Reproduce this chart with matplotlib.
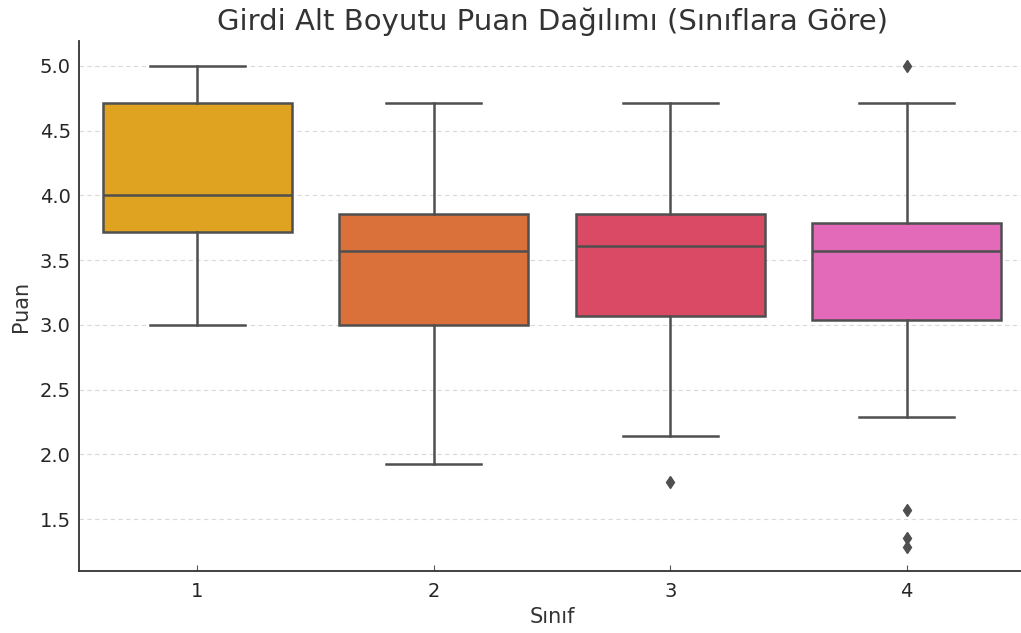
import matplotlib
matplotlib.use("Agg")
import matplotlib.pyplot as plt

plt.rcParams['font.family'] = ['DejaVu Sans']

categories = ["1", "2", "3", "4"]
q1 = [3.714, 3.000, 3.071, 3.036]
medians = [4.000, 3.571, 3.607, 3.571]
q3 = [4.714, 3.857, 3.857, 3.786]
whislo = [3.000, 1.929, 2.143, 2.286]
whishi = [5.000, 4.714, 4.714, 4.714]
fliers = [[], [], [1.786], [5.000, 1.571, 1.357, 1.286]]
colors = ["#DFA321", "#DA703A", "#DB4A64", "#E36AB9"]

title = "Girdi Alt Boyutu Puan Dağılımı (Sınıflara Göre)"
xlabel = "Sınıf"
ylabel = "Puan"

fig = plt.figure(figsize=(10.21, 6.33), dpi=100)
ax = fig.add_axes([0.0774, 0.098, 1.0039 - 0.0774, 0.935 - 0.098])

stats = []
for i, c in enumerate(categories):
    stats.append(dict(label=c, q1=q1[i], med=medians[i], q3=q3[i],
                      whislo=whislo[i], whishi=whishi[i], fliers=fliers[i]))

lc = "#4f4f4f"
lw = 1.8
bp = ax.bxp(stats, positions=range(len(categories)), widths=0.8,
            patch_artist=True, showfliers=True,
            boxprops=dict(edgecolor=lc, linewidth=lw),
            medianprops=dict(color=lc, linewidth=lw),
            whiskerprops=dict(color=lc, linewidth=lw),
            capprops=dict(color=lc, linewidth=lw),
            flierprops=dict(marker='d', markerfacecolor=lc, markeredgecolor=lc,
                            markersize=6.5, linestyle='none'),
            capwidths=0.4)
for patch, col in zip(bp['boxes'], colors):
    patch.set_facecolor(col)

ax.set_xlim(-0.5, 3.5)
ax.set_ylim(1.10, 5.19)
ax.set_yticks([1.5, 2.0, 2.5, 3.0, 3.5, 4.0, 4.5, 5.0])
ax.set_xticks(range(len(categories)))
ax.set_xticklabels(categories)

ax.yaxis.grid(True, linestyle=(0, (4, 3)), color='#d9d9d9', linewidth=0.8)
ax.set_axisbelow(True)
for s in ['top', 'right']:
    ax.spines[s].set_visible(False)
for s in ['left', 'bottom']:
    ax.spines[s].set_color('#333333')
    ax.spines[s].set_linewidth(1.3)

ax.tick_params(axis='x', direction='in', length=4, color='#555555', labelsize=14,
               labelcolor='#262626', pad=8)
ax.tick_params(axis='y', length=0, labelsize=14, labelcolor='#262626', pad=6)

ax.set_title(title, fontsize=21, color='#333333', pad=8)
ax.set_xlabel(xlabel, fontsize=15, color='#333333', labelpad=4)
ax.set_ylabel(ylabel, fontsize=15, color='#333333', labelpad=6)

fig.savefig("out.png", dpi=100)
